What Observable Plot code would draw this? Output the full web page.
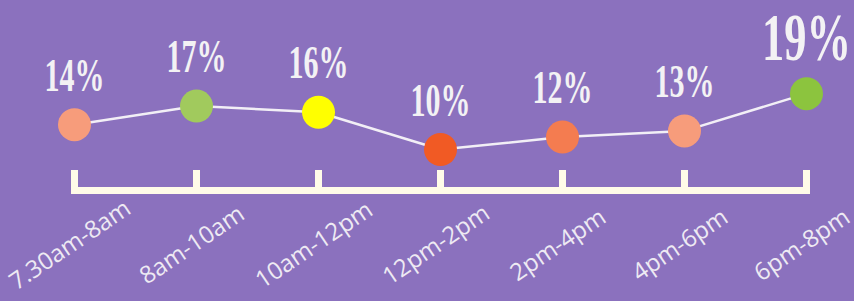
<!DOCTYPE html>
<html><head><meta charset="utf-8">
<script src="https://cdn.jsdelivr.net/npm/d3@7"></script>
<script src="https://cdn.jsdelivr.net/npm/@observablehq/plot@0.6"></script>
<style>
html,body{margin:0;padding:0;background:#8B71BE;overflow:hidden;}
</style></head><body><div id="chart"></div>
<script>
const slots = ["7.30am-8am","8am-10am","10am-12pm","12pm-2pm","2pm-4pm","4pm-6pm","6pm-8pm"];
const shares = [14,17,16,10,12,13,19];
const dotColors = ["#F79C7B","#A1CA5D","#FFFF00","#F15A24","#F47C50","#F79C7B","#8CC43E"];
const labelSizes = [47,47,47,47,47,47,68];
const labelWidths = [60,60,60,60,60,60,89];

const data = slots.map((s, i) => ({slot: s, share: shares[i], color: dotColors[i], size: labelSizes[i], label: shares[i] + "%"}));

const cream = "#FFFBE8";
const chart = Plot.plot({
  width: 854, height: 301,
  marginLeft: 74, marginRight: 48, marginTop: 0, marginBottom: 111,
  style: {background: "#8B71BE", overflow: "visible"},
  x: {type: "point", domain: slots, padding: 0, axis: null},
  y: {domain: [3.4, 34], axis: null},
  marks: [
    Plot.frame({anchor: "bottom", stroke: cream, strokeWidth: 7, strokeLinecap: "square", strokeOpacity: 1}),
    Plot.ruleX(slots, {x: d => d, stroke: cream, strokeWidth: 7, insetTop: 170}),
    Plot.line(data, {x: "slot", y: "share", stroke: "#F2EFF6", strokeWidth: 2.5}),
    Plot.dot(data, {x: "slot", y: "share", r: 16.5, fill: "color"}),
    Plot.text(data, {x: "slot", y: "share", text: "label", fontSize: "size", dy: -34, lineAnchor: "bottom",
      fill: "#F3F2F4", fontFamily: "Liberation Serif", fontWeight: "bold"}),
    Plot.text(slots, {x: d => d, text: d => d, frameAnchor: "bottom", dy: 61, dx: 0, rotate: -34,
      fontSize: 24, fill: "#EEEAF3", fontFamily: "Open Sans"})
  ]
});
document.getElementById("chart").appendChild(chart);
const pctTexts = Array.from(chart.querySelectorAll("text")).filter(t => t.textContent.trim().endsWith("%"));
pctTexts.forEach((t, i) => {
  const w = t.getBBox().width;
  const s = labelWidths[i] / w;
  let tr = t.getAttribute("transform");
  if (!tr) {
    const x = +t.getAttribute("x") || 0, y = +t.getAttribute("y") || 0;
    t.removeAttribute("x"); t.removeAttribute("y");
    tr = `translate(${x},${y})`;
  }
  t.setAttribute("transform", tr + ` scale(${s},1)`);
});
</script></body></html>
